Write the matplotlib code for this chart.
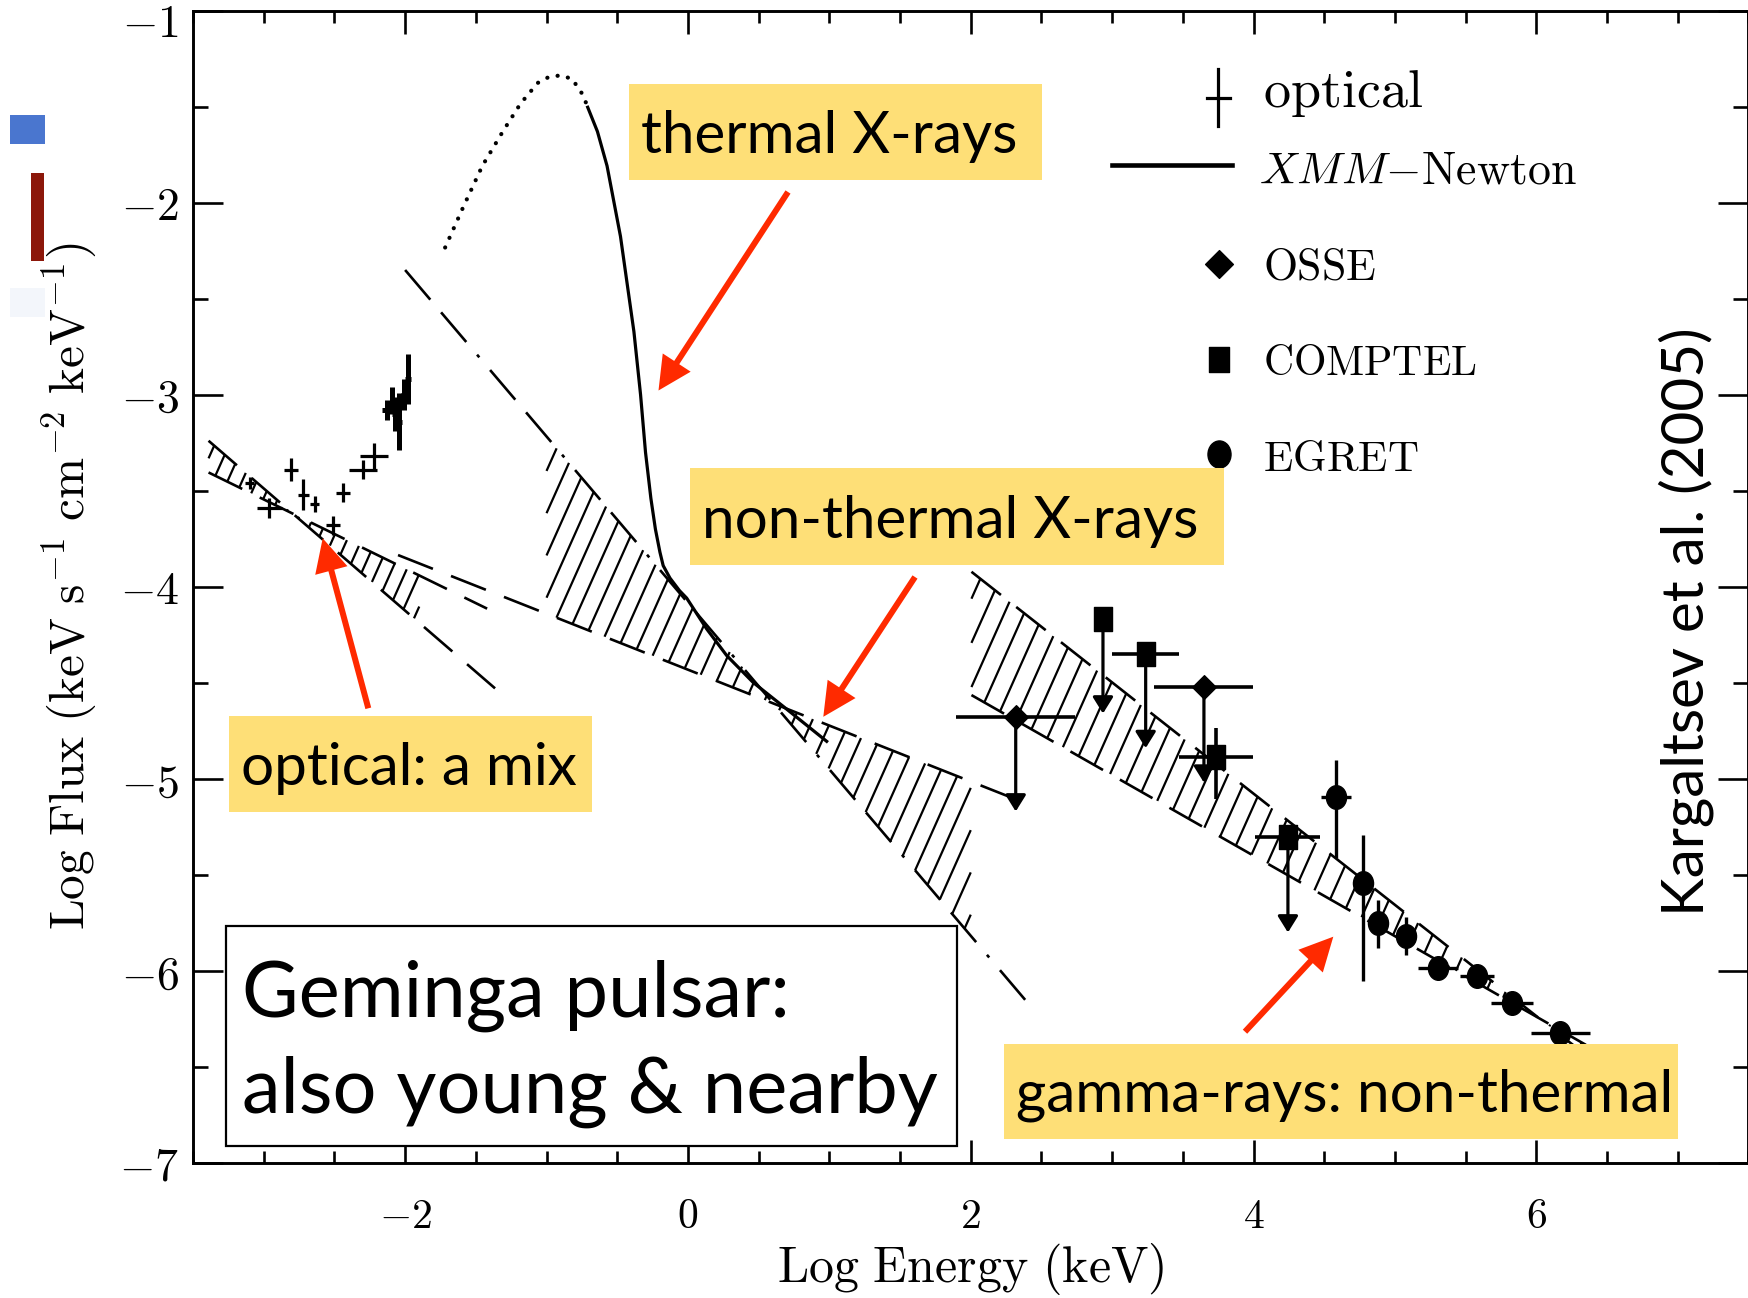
import numpy as np
import matplotlib
matplotlib.use("Agg")
import matplotlib.pyplot as plt
from matplotlib.path import Path
from matplotlib.lines import Line2D
from matplotlib.patches import Rectangle, FancyArrowPatch, ArrowStyle
from matplotlib.collections import LineCollection
from matplotlib.ticker import MultipleLocator
from matplotlib.transforms import ScaledTranslation

plt.rcParams["mathtext.fontset"] = "cm"
plt.rcParams["lines.scale_dashes"] = False

# ---------------- data ----------------
# optical photometry (log E, log F, errors)
opt_x = [-3.10, -2.96, -2.81, -2.72, -2.64, -2.51, -2.44, -2.30, -2.22]
opt_y = [-3.46, -3.59, -3.39, -3.52, -3.57, -3.68, -3.51, -3.39, -3.32]
opt_xerr = [0.03, 0.09, 0.05, 0.04, 0.03, 0.05, 0.05, 0.10, 0.10]
opt_yerr = [0.03, 0.05, 0.06, 0.08, 0.04, 0.05, 0.05, 0.05, 0.07]

# near-UV points
uv_x = [-2.13, -2.09, -2.07, -2.04, -2.01, -1.98]
uv_y = [-3.08, -3.03, -3.10, -3.14, -3.00, -2.92]
uv_xerr = [0.03, 0.02, 0.02, 0.02, 0.02, 0.02]
uv_yerr = [0.05, 0.07, 0.09, 0.15, 0.08, 0.13]

# XMM-Newton spectral model (solid) and its thermal extension (dotted)
xmm_x = [-0.713, -0.640, -0.572, -0.477, -0.382, -0.335, -0.300, -0.262, -0.230,
         -0.198, -0.175, -0.127, -0.060, -0.009, 0.132, 0.274, 0.461, 0.698, 0.990]
xmm_y = [-1.496, -1.630, -1.809, -2.176, -2.672, -3.000, -3.300, -3.540, -3.700,
         -3.820, -3.890, -3.955, -4.020, -4.059, -4.219, -4.358, -4.498, -4.637, -4.810]
bb_x = [-1.717, -1.590, -1.454, -1.305, -1.184, -1.062, -0.981, -0.900, -0.819, -0.742, -0.713]
bb_y = [-2.234, -2.025, -1.809, -1.625, -1.485, -1.377, -1.345, -1.338, -1.356, -1.440, -1.496]

# power-law uncertainty boundaries: (x ends, y ends)
xray_steep = ([-2.00, 2.405], [-2.351, -6.168])
xray_flat = ([-2.05, 2.43], [-3.835, -5.139])
xray_hatch = (-1.00, 2.00)
opt_steep = ([-3.39, -1.364], [-3.240, -4.529])
opt_flat = ([-3.39, -1.42], [-3.405, -4.114])
opt_hatch = (-3.39, -1.90)
gam_upper = ([2.005, 6.35], [-3.922, -6.438])
gam_lower = ([2.005, 6.35], [-4.564, -6.385])
gam_hatch = (2.005, 6.35)

# OSSE (upper limits)
osse_x = [2.318, 3.649]
osse_y = [-4.680, -4.520]
osse_xerr = [0.42, 0.35]
osse_ul = [-5.17, -5.02]

# COMPTEL
comptel_x = [2.935, 3.237, 3.736, 4.243]
comptel_y = [-4.168, -4.350, -4.885, -5.301]
comptel_xerr = [0.0, 0.235, 0.26, 0.23]
comptel_yerr_lo = [0.0, 0.0, 0.22, 0.0]
comptel_yerr_hi = [0.0, 0.0, 0.15, 0.0]
comptel_ul = [-4.66, -4.84, np.nan, -5.80]

# EGRET
egret_x = [4.580, 4.773, 4.883, 5.079, 5.303, 5.581, 5.826, 6.170]
egret_y = [-5.093, -5.544, -5.752, -5.818, -5.986, -6.027, -6.166, -6.325]
egret_xerr = [0.106, 0.0, 0.0, 0.0, 0.14, 0.12, 0.15, 0.21]
egret_yerr_lo = [0.32, 0.51, 0.13, 0.10, 0.03, 0.03, 0.03, 0.03]
egret_yerr_hi = [0.19, 0.25, 0.12, 0.10, 0.03, 0.03, 0.03, 0.03]

xticks = [-2, 0, 2, 4, 6]
yticks = [-7, -6, -5, -4, -3, -2, -1]

# ---------------- figure ----------------
W, H = 1749, 1298
fig = plt.figure(figsize=(W / 100, H / 100), dpi=100)
fig.patch.set_facecolor("white")


def fx(x):
    return x / W


def fy(y):
    return 1 - y / H


ax = fig.add_axes([193 / W, (H - 1163) / H, 1555.5 / W, (1163 - 10.5) / H])
ax.set_xlim(-3.5, 7.5)
ax.set_ylim(-7, -1)

DASH = (0, (27, 14))
DASHDOT = (0, (28, 12, 28, 12, 2.5, 12))
LW = 1.9


def hatch_band(l1, l2, xr, k=1.65, dc=0.22, lw=1.6):
    """Steep hatch segments between two straight boundaries over an x range."""
    (xa1, xb1), (ya1, yb1) = l1
    (xa2, xb2), (ya2, yb2) = l2
    s1 = (yb1 - ya1) / (xb1 - xa1)
    c1 = ya1 - s1 * xa1
    s2 = (yb2 - ya2) / (xb2 - xa2)
    c2 = ya2 - s2 * xa2
    corners = []
    for x in xr:
        corners += [s1 * x + c1 - k * x, s2 * x + c2 - k * x]
    segs = []
    for c in np.arange(min(corners) + dc / 2, max(corners), dc):
        xa = (c1 - c) / (k - s1)
        xb = (c2 - c) / (k - s2)
        lo, hi = sorted([xa, xb])
        lo = max(lo, xr[0])
        hi = min(hi, xr[1])
        if hi > lo:
            segs.append([(lo, k * lo + c), (hi, k * hi + c)])
    ax.add_collection(LineCollection(segs, colors="k", linewidths=lw))


# bow-ties
hatch_band(opt_steep, opt_flat, opt_hatch, dc=0.17)
hatch_band(xray_steep, xray_flat, xray_hatch, dc=0.22)
hatch_band(gam_upper, gam_lower, gam_hatch, dc=0.23)

ax.plot(*xray_steep, color="k", lw=LW, linestyle=DASHDOT)
ax.plot(*xray_flat, color="k", lw=LW, linestyle=DASH)
ax.plot(*opt_steep, color="k", lw=LW, linestyle=DASH)
ax.plot(*opt_flat, color="k", lw=LW, linestyle=DASH)
ax.plot(*gam_upper, color="k", lw=LW, linestyle=DASH)
ax.plot(*gam_lower, color="k", lw=LW, linestyle=DASH)

# XMM model
ax.plot(bb_x, bb_y, color="k", lw=3.0, linestyle=(0, (0.1, 7.5)), dash_capstyle="round")
ax.plot(xmm_x, xmm_y, color="k", lw=2.3, solid_capstyle="butt")

# optical / UV
ax.errorbar(opt_x, opt_y, xerr=opt_xerr, yerr=opt_yerr, fmt="none", ecolor="k", elinewidth=2.3, capsize=0)
ax.errorbar(uv_x, uv_y, xerr=uv_xerr, yerr=uv_yerr, fmt="none", ecolor="k", elinewidth=3.6, capsize=0)

# markers
circ = Path.unit_circle()
ellipse = Path(circ.vertices * np.array([0.85, 1.0]), circ.codes)
square = Path([(-0.8, -1), (0.8, -1), (0.8, 1), (-0.8, 1), (-0.8, -1)], closed=True)
diamond = Path([(0, -1), (1, 0), (0, 1), (-1, 0), (0, -1)], closed=True)


def limit_arrows(xs, ys, tips):
    for x, y, t in zip(xs, ys, tips):
        if np.isfinite(t):
            ax.annotate("", xy=(x, t), xytext=(x, y),
                        arrowprops=dict(arrowstyle="-|>,head_length=0.45,head_width=0.28",
                                        color="k", lw=2.3, mutation_scale=22,
                                        shrinkA=0, shrinkB=0))


# OSSE
ax.errorbar(osse_x, osse_y, xerr=osse_xerr, fmt="none", ecolor="k", elinewidth=2.6, capsize=0)
limit_arrows(osse_x, osse_y, osse_ul)
ax.plot(osse_x, osse_y, linestyle="none", marker=diamond, ms=17, color="k")

# COMPTEL
ax.errorbar(comptel_x, comptel_y, xerr=comptel_xerr, yerr=[comptel_yerr_lo, comptel_yerr_hi],
            fmt="none", ecolor="k", elinewidth=2.6, capsize=0)
limit_arrows(comptel_x, comptel_y, comptel_ul)
ax.plot(comptel_x, comptel_y, linestyle="none", marker=square, ms=17, color="k")

# EGRET
ax.errorbar(egret_x, egret_y, xerr=egret_xerr, yerr=[egret_yerr_lo, egret_yerr_hi],
            fmt="none", ecolor="k", elinewidth=2.4, capsize=0)
ax.plot(egret_x, egret_y, linestyle="none", marker=ellipse, ms=17, color="k")

# axes styling
ax.set_xticks(xticks, labels=[r"$%d$" % v for v in xticks])
ax.set_yticks(yticks, labels=[r"$%d$" % v for v in yticks])
ax.xaxis.set_minor_locator(MultipleLocator(0.5))
ax.yaxis.set_minor_locator(MultipleLocator(0.5))
ax.tick_params(which="both", direction="in", top=True, right=True, width=1.9, color="k")
ax.tick_params(axis="x", which="major", length=16.5, pad=23, labelsize=30)
ax.tick_params(axis="x", which="minor", length=8.5)
ax.tick_params(axis="y", which="major", length=21.5, pad=10, labelsize=33)
ax.tick_params(axis="y", which="minor", length=11)
for sp in ax.spines.values():
    sp.set_linewidth(2.1)
top_label = ax.yaxis.get_major_ticks()[-1].label1
top_label.set_verticalalignment("top")
top_label.set_transform(top_label.get_transform() + ScaledTranslation(0, 6 / 72, fig.dpi_scale_trans))

ax.set_xlabel(r"$\mathrm{Log\ Energy\ (keV)}$", fontsize=36)
ax.xaxis.set_label_coords(0.5, (1163 - 1241) / 1152.5)
ax.set_ylabel(r"$\mathrm{Log\ Flux\ (keV\ s^{-1}\ cm^{-2}\ keV^{-1})}$", fontsize=35.5)
ax.yaxis.set_label_coords((99 - 193) / 1555.5, 0.5)

# legend
T = fig.transFigure
fig.add_artist(Line2D([fx(1218)] * 2, [fy(69), fy(126)], transform=T, color="k", lw=2.3))
fig.add_artist(Line2D([fx(1207), fx(1230)], [fy(97.6)] * 2, transform=T, color="k", lw=2.3))
fig.add_artist(Line2D([fx(1112), fx(1232.5)], [fy(164.6)] * 2, transform=T, color="k", lw=3.3))
fig.add_artist(Line2D([fx(1219)], [fy(264)], transform=T, marker=diamond, ms=20, color="k", linestyle="none"))
fig.add_artist(Line2D([fx(1218.7)], [fy(358.7)], transform=T, marker=square, ms=18, color="k", linestyle="none"))
fig.add_artist(Line2D([fx(1218.7)], [fy(453.5)], transform=T, marker=ellipse, ms=19.5, color="k", linestyle="none"))
fig.text(fx(1263.5), fy(107), r"$\mathrm{optical}$", fontsize=39, va="baseline")
fig.text(fx(1259), fy(183.7), r"$XMM{-}\mathrm{Newton}$", fontsize=33, va="baseline")
fig.text(fx(1263.5), fy(279.4), r"$\mathrm{OSSE}$", fontsize=31.5, va="baseline")
fig.text(fx(1263.5), fy(375), r"$\mathrm{COMPTEL}$", fontsize=30, va="baseline")
fig.text(fx(1263.5), fy(470.7), r"$\mathrm{EGRET}$", fontsize=31, va="baseline")

# slide annotations
YEL = "#FEDF77"
RED = "#FF2A00"
SANS = "Lato"


def box(x0, y0, x1, y1, **kw):
    fig.add_artist(Rectangle((fx(x0), fy(y1)), (x1 - x0) / W, (y1 - y0) / H,
                             transform=T, zorder=5, **kw))


for (x0, y0, x1, y1), txt in [((629, 84, 1042, 180), "thermal X-rays"),
                              ((690, 468, 1224, 565), "non-thermal X-rays"),
                              ((229, 716, 592, 812), "optical: a mix"),
                              ((1004, 1044, 1678, 1139), "gamma-rays: non-thermal")]:
    box(x0, y0, x1, y1, fc=YEL, ec="none")
    fig.text(fx(x0 + 12), fy(y1 - 27), txt, fontsize=42, family=SANS, va="baseline", zorder=6)

box(226, 926, 957, 1146, fc="white", ec="black", lw=1.6)
fig.text(fx(242), fy(1017), "Geminga pulsar:", fontsize=56, family=SANS, va="baseline", zorder=6)
fig.text(fx(242), fy(1113), "also young & nearby", fontsize=56, family=SANS, va="baseline", zorder=6)

fig.text(fx(1686), fy(622), "Kargaltsev et al. (2005)", rotation=90, ha="center", va="center",
         fontsize=42, family=SANS, zorder=6)

for tail, tip in [((788, 192), (658.5, 390.5)),
                  ((915, 577), (823.3, 716.8)),
                  ((368.3, 708.3), (322.7, 538.3)),
                  ((1245, 1031.7), (1333.3, 936.7))]:
    fig.add_artist(FancyArrowPatch((fx(tail[0]), fy(tail[1])), (fx(tip[0]), fy(tip[1])),
                                   transform=T, zorder=7,
                                   arrowstyle=ArrowStyle.Simple(head_length=0.5, head_width=0.5, tail_width=0.09),
                                   mutation_scale=48, fc=RED, ec="none", shrinkA=0, shrinkB=0))

# side markers
box(9.6, 115, 45, 144, fc="#4A76CF", ec="none")
box(31, 173, 44, 261, fc="#8C170A", ec="none")
box(9.6, 288, 45, 317, fc="#F3F6FB", ec="none")

fig.savefig("out.png", dpi=100)
